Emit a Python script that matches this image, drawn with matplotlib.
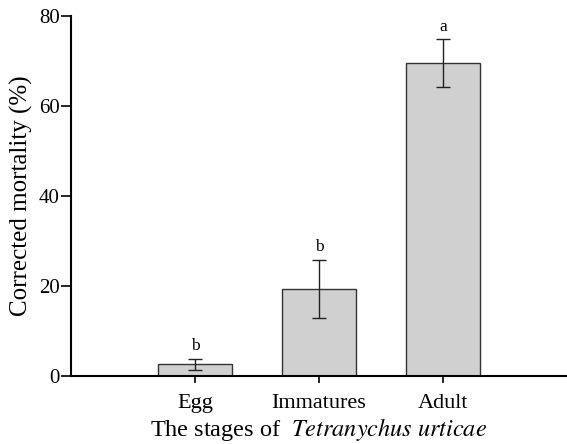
import matplotlib
matplotlib.use("Agg")
import matplotlib.pyplot as plt

categories = ["Egg", "Immatures", "Adult"]
values = [2.6, 19.3, 69.5]
errors = [1.2, 6.5, 5.3]
letters = ["b", "b", "a"]
yticks = [0, 20, 40, 60, 80]

plt.rcParams['font.family'] = ['Liberation Serif', 'DejaVu Serif']
plt.rcParams['mathtext.fontset'] = 'stix'

fig = plt.figure(figsize=(5.67, 4.44), dpi=100)
ax = fig.add_axes([0.125, 0.153, 0.875, 0.811])
x = list(range(len(categories)))
ax.bar(x, values, width=0.6, color='#d0d0d0', edgecolor='#333333', linewidth=1.0, zorder=2)
ax.errorbar(x, values, yerr=errors, fmt='none', ecolor='#222222', elinewidth=1.0,
            capsize=5, capthick=1.0, zorder=3)
for xi, v, e, l in zip(x, values, errors, letters):
    ax.text(xi, v + e + 1.0, l, ha='center', va='bottom', fontsize=12.5)

ax.set_xlim(-1, 3)
ax.set_ylim(0, 80)
ax.set_yticks(yticks)
ax.set_xticks(x)
ax.set_xticklabels(categories, fontsize=16)
ax.tick_params(axis='y', labelsize=15, direction='out', length=7, width=1.2, pad=1)
ax.tick_params(axis='x', direction='out', length=5, width=1.2, pad=8)
for s in ['top', 'right']:
    ax.spines[s].set_visible(False)
for s in ['left', 'bottom']:
    ax.spines[s].set_linewidth(1.5)
ax.set_ylabel('Corrected mortality (%)', fontsize=18, labelpad=4)
ax.set_xlabel('The stages of  $\\it{Tetranychus\\ urticae}$', fontsize=17.5, labelpad=2)

fig.savefig('out.png', dpi=100)
